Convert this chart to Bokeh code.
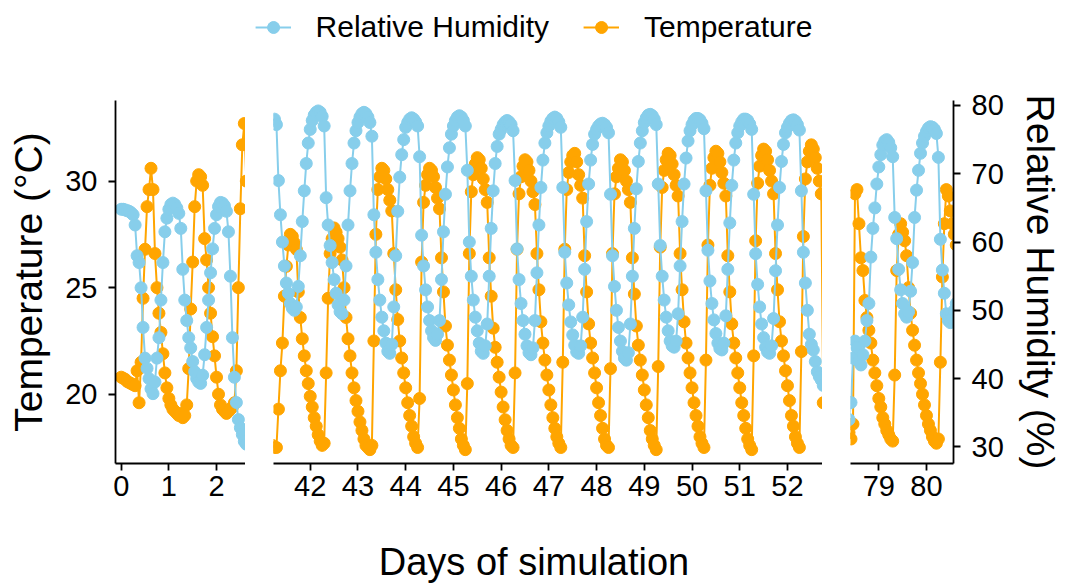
import numpy as np
from bokeh.plotting import figure
from bokeh.models import Range1d, LinearAxis, FixedTicker, Legend, LegendItem
from bokeh.layouts import column, row
from bokeh.embed import file_html
from bokeh.resources import INLINE

TEMP_COLOR = "#FFA500"
RH_COLOR = "#87CEEB"
FONT = "Liberation Sans"

# ---------------- data (hourly readings) ----------------
# Segment 1: days 0 - 2.6, starts at hour 0
seg1_start_hour = 0
temp_d0 = [20.8, 20.75, 20.7, 20.6, 20.55, 20.5, 20.45, 20.4, 21.1, 19.6, 21.5, 24.5,
           26.8, 28.8, 29.6, 30.6, 29.6, 26.6, 25.0, 23.8, 22.9, 21.9, 21.0, 20.3]
temp_d1 = [19.8, 19.5, 19.3, 19.2, 19.1, 19.0, 19.1, 18.9, 19.0, 19.5, 21.2, 24.0,
           26.2, 28.8, 30.0, 30.3, 30.2, 29.8, 27.3, 26.3, 25.0, 23.8, 22.7, 21.8]
temp_d2 = [20.8, 20.0, 19.5, 19.3, 19.2, 19.1, 19.2, 19.3, 19.4, 19.6, 21.1, 25.0,
           28.7, 31.7, 32.7, 30.0]
rh_d0 = [64.8, 64.8, 64.7, 64.6, 64.5, 64.3, 64.0, 62.5, 58.0, 57.0, 53.3, 47.5,
         43.0, 41.5, 40.0, 38.5, 37.8, 39.5, 43.0, 46.0, 51.5, 57.0, 61.5, 63.5]
rh_d1 = [64.8, 65.5, 65.7, 65.5, 65.0, 64.2, 62.0, 56.0, 51.5, 48.5, 46.0, 44.5,
         42.5, 41.0, 40.0, 39.5, 39.3, 40.5, 43.5, 47.5, 51.5, 55.5, 59.0, 62.0]
rh_d2 = [64.0, 65.2, 65.8, 65.7, 65.3, 64.5, 61.5, 55.0, 46.0, 40.2, 36.5, 34.0,
         32.8, 31.8, 30.8, 30.4]

# Segment 2: days 41.2 - 52.75, starts at day 41 hour 5
seg2_start_hour = 41 * 24 + 5
temp_d41 = [17.6, 17.5, 17.5, 19.3, 21.1, 22.4, 24.6, 26.0, 27.0, 27.5, 27.4, 27.1,
            26.8, 24.8, 23.6, 22.6, 21.8, 21.1, 20.5]
temp_d42 = [19.9, 19.4, 18.9, 18.5, 18.1, 17.8, 17.6, 17.7, 21.0, 24.5, 26.6, 27.3,
            27.8, 27.6, 27.3, 26.9, 26.3, 25.0, 23.6, 22.6, 21.8, 21.0, 20.3, 19.7]
temp_d43 = [19.2, 18.7, 18.3, 17.9, 17.6, 17.5, 17.4, 17.6, 22.5, 27.5, 29.6, 30.2,
            30.6, 30.5, 30.1, 29.6, 29.1, 28.6, 26.6, 24.9, 23.5, 22.5, 21.7, 21.0]
temp_d44 = [20.3, 19.6, 19.0, 18.5, 18.0, 17.7, 17.5, 19.8, 26.2, 29.0, 29.8, 30.3,
            30.6, 30.5, 30.2, 29.7, 29.2, 28.7, 26.4, 24.8, 23.2, 22.3, 21.6, 20.9]
temp_d45 = [20.2, 19.5, 18.9, 18.4, 17.9, 17.6, 17.4, 20.5, 26.6, 29.5, 30.3, 30.8,
            31.1, 31.0, 30.6, 30.1, 29.6, 29.0, 26.4, 24.6, 23.1, 22.2, 21.5, 20.8]
temp_d46 = [20.1, 19.4, 18.8, 18.3, 17.9, 17.6, 17.5, 21.0, 26.8, 29.4, 30.2, 30.7,
            31.0, 30.9, 30.5, 30.0, 29.5, 28.9, 26.6, 24.9, 23.4, 22.4, 21.6, 20.9]
temp_d47 = [20.2, 19.5, 18.9, 18.4, 18.0, 17.7, 17.5, 21.5, 26.8, 29.6, 30.4, 30.9,
            31.2, 31.3, 30.9, 30.3, 29.8, 29.2, 26.5, 24.8, 23.3, 22.4, 21.7, 21.0]
temp_d48 = [20.3, 19.6, 19.0, 18.4, 17.9, 17.6, 17.5, 21.2, 26.6, 29.4, 30.2, 30.6,
            31.0, 30.9, 30.5, 30.0, 29.6, 29.0, 26.4, 24.7, 23.2, 22.3, 21.6, 20.9]
temp_d49 = [20.2, 19.5, 18.9, 18.3, 17.9, 17.6, 17.4, 21.3, 26.9, 29.7, 30.5, 31.0,
            31.3, 31.2, 30.8, 30.3, 29.8, 29.3, 26.6, 24.9, 23.4, 22.4, 21.7, 21.0]
temp_d50 = [20.3, 19.6, 19.0, 18.5, 18.0, 17.7, 17.5, 21.6, 27.0, 29.8, 30.6, 31.1,
            31.4, 31.3, 30.9, 30.4, 29.9, 29.3, 26.5, 24.8, 23.3, 22.4, 21.7, 21.0]
temp_d51 = [20.3, 19.6, 19.0, 18.4, 17.9, 17.6, 17.4, 21.8, 27.2, 29.9, 30.7, 31.2,
            31.5, 31.4, 31.0, 30.5, 30.0, 29.4, 26.6, 24.9, 23.4, 22.5, 21.8, 21.1]
temp_d52 = [20.4, 19.7, 19.0, 18.5, 18.0, 17.7, 17.5, 22.0, 27.4, 30.1, 30.9, 31.4,
            31.7, 31.5, 31.1, 30.6, 30.0, 29.4, 19.6]
rh_d41 = [77.8, 78.0, 77.2, 69.0, 64.0, 60.0, 56.5, 54.0, 52.5, 51.0, 50.3, 50.0,
          50.5, 53.5, 58.0, 63.0, 67.5, 71.5, 74.5]
rh_d42 = [76.5, 77.8, 78.6, 79.0, 79.2, 79.0, 78.4, 77.0, 66.5, 62.5, 59.5, 57.0,
          54.5, 52.5, 50.8, 49.8, 49.5, 51.5, 56.5, 62.5, 67.5, 71.5, 74.5, 76.3]
rh_d43 = [77.5, 78.3, 78.8, 79.0, 78.8, 78.3, 77.5, 75.5, 64.0, 58.5, 54.5, 51.5,
          49.0, 47.0, 45.2, 44.0, 43.7, 45.0, 50.5, 58.0, 64.5, 69.5, 72.8, 75.0]
rh_d44 = [76.8, 77.5, 78.0, 78.2, 78.0, 77.6, 77.0, 72.5, 61.0, 56.5, 53.0, 50.5,
          48.5, 47.0, 46.0, 45.6, 46.5, 48.5, 54.5, 61.5, 67.0, 71.0, 73.8, 75.8]
rh_d45 = [77.0, 77.8, 78.3, 78.5, 78.3, 77.8, 77.0, 70.5, 60.0, 55.0, 51.5, 49.0,
          47.0, 45.2, 44.0, 43.7, 44.8, 48.0, 55.0, 62.0, 67.5, 71.5, 74.0, 75.8]
rh_d46 = [76.5, 77.2, 77.6, 77.8, 77.6, 77.2, 76.3, 69.0, 59.0, 54.5, 51.0, 48.5,
          46.5, 44.8, 43.8, 43.5, 44.5, 48.5, 55.5, 62.5, 68.0, 72.0, 74.5, 76.0]
rh_d47 = [77.0, 77.7, 78.1, 78.3, 78.1, 77.6, 76.8, 68.0, 58.5, 54.0, 50.8, 48.3,
          46.4, 44.9, 43.9, 43.7, 44.8, 49.0, 56.0, 63.0, 68.5, 72.0, 74.3, 75.8]
rh_d48 = [76.5, 77.0, 77.3, 77.4, 77.2, 76.8, 76.0, 67.0, 58.0, 53.5, 50.0, 47.5,
          45.5, 44.0, 43.0, 42.7, 43.8, 48.0, 55.0, 62.0, 67.8, 71.8, 74.5, 76.3]
rh_d49 = [77.5, 78.2, 78.6, 78.7, 78.5, 78.0, 77.2, 68.5, 59.5, 55.0, 51.5, 49.0,
          47.0, 45.5, 44.8, 44.6, 45.5, 49.5, 56.5, 63.0, 68.5, 72.3, 74.8, 76.3]
rh_d50 = [77.2, 77.8, 78.1, 78.1, 77.9, 77.4, 76.6, 67.5, 58.8, 54.3, 51.0, 48.6,
          46.6, 45.2, 44.4, 44.2, 45.2, 49.2, 56.0, 62.8, 68.3, 72.0, 74.5, 76.0]
rh_d51 = [77.0, 77.6, 78.0, 78.0, 77.8, 77.3, 76.5, 67.0, 58.3, 53.8, 50.5, 48.0,
          46.0, 44.6, 43.9, 43.7, 44.8, 48.8, 55.8, 62.5, 68.0, 71.8, 74.3, 76.0]
rh_d52 = [76.8, 77.4, 77.8, 77.9, 77.7, 77.2, 76.4, 67.5, 58.5, 54.0, 50.0, 46.5,
          45.0, 44.2, 42.5, 41.0, 40.3, 39.8, 39.0]

# Segment 3: days 78.4 - 80.6, starts at day 78 hour 9
seg3_start_hour = 78 * 24 + 9
temp_d78 = [18.2, 17.9, 18.6, 29.4, 29.6, 28.0, 26.4, 25.8, 24.4, 23.6, 23.0, 22.4,
            21.6, 21.0, 20.4]
temp_d79 = [19.8, 19.4, 18.9, 18.6, 18.3, 18.1, 17.9, 17.8, 20.9, 25.8, 27.5, 28.0,
            27.6, 27.2, 26.5, 25.0, 23.8, 23.0, 22.3, 21.6, 21.0, 20.5, 20.0, 19.5]
temp_d80 = [19.0, 18.6, 18.3, 18.0, 17.8, 17.7, 17.9, 21.5, 25.5, 28.0, 29.6, 29.3,
            28.6, 28.0, 27.5, 27.0]
rh_d78 = [34.0, 36.5, 43.0, 45.5, 44.5, 42.5, 42.0, 43.5, 45.5, 48.5, 51.0, 57.8,
          62.0, 65.0, 68.5]
rh_d79 = [71.0, 72.8, 74.2, 74.8, 75.0, 74.6, 73.8, 72.5, 63.6, 60.5, 56.0, 53.0,
          51.0, 49.5, 49.0, 49.8, 52.8, 57.0, 63.6, 67.6, 70.5, 73.0, 74.5, 75.5]
rh_d80 = [76.2, 76.7, 76.9, 76.8, 76.5, 75.9, 72.4, 60.4, 55.9, 52.5, 49.5, 48.5,
          48.2, 48.8, 50.0, 51.0]

# Axis settings
temp_ticks = [20, 25, 30]
rh_ticks = [30, 40, 50, 60, 70, 80]
seg1_ticks = [0, 1, 2]
seg2_ticks = list(range(42, 53))
seg3_ticks = [79, 80]
seg1_window = (-0.12, 2.608)
seg2_window = (41.23, 52.734)
seg3_window = (78.406, 80.567)
temp_window = (16.75, 33.78)
rh_window = (27.57, 80.73)

segments = [
    (seg1_start_hour, temp_d0 + temp_d1 + temp_d2, rh_d0 + rh_d1 + rh_d2),
    (seg2_start_hour,
     temp_d41 + temp_d42 + temp_d43 + temp_d44 + temp_d45 + temp_d46 + temp_d47
     + temp_d48 + temp_d49 + temp_d50 + temp_d51 + temp_d52,
     rh_d41 + rh_d42 + rh_d43 + rh_d44 + rh_d45 + rh_d46 + rh_d47
     + rh_d48 + rh_d49 + rh_d50 + rh_d51 + rh_d52),
    (seg3_start_hour, temp_d78 + temp_d79 + temp_d80, rh_d78 + rh_d79 + rh_d80),
]

POINT_SIZE = 12


def clean(p):
    p.outline_line_color = None
    p.background_fill_color = "white"
    p.border_fill_color = "white"
    for g in p.renderers:
        pass
    p.xgrid.visible = False
    p.ygrid.visible = False
    p.grid.grid_line_color = None


def style_axis(ax, tick_size="29px", title_size="39px", standoff=11):
    ax.axis_line_color = "black"
    ax.axis_line_width = 1.8
    ax.major_tick_line_color = "black"
    ax.major_tick_line_width = 1.8
    ax.major_tick_out = 7
    ax.major_tick_in = 0
    ax.minor_tick_out = 0
    ax.minor_tick_in = 0
    ax.major_label_standoff = standoff
    ax.major_label_text_font = FONT
    ax.major_label_text_font_size = tick_size
    ax.major_label_text_color = "black"
    ax.axis_label_text_font = FONT
    ax.axis_label_text_font_size = title_size
    ax.axis_label_text_font_style = "normal"
    ax.axis_label_text_color = "black"
    ax.axis_label_standoff = 12


def make_panel(seg, window, ticks, width, left_b, right_b, left_axis=False, right_axis=False):
    start, temps, rhs = seg
    p = figure(width=width, height=466, x_range=Range1d(*window),
               y_range=Range1d(*temp_window), output_backend="svg",
               toolbar_location=None,
               min_border_left=left_b, min_border_right=right_b,
               min_border_top=46, min_border_bottom=57)
    # remove default axes and grids
    p.renderers = []
    p.left = []
    p.below = []
    p.center = []
    p.extra_y_ranges = {"rh": Range1d(*rh_window)}
    p.outline_line_color = None
    p.background_fill_color = "white"
    p.border_fill_color = "white"
    days = (start + np.arange(len(temps))) / 24.0
    days_rh = (start + np.arange(len(rhs))) / 24.0
    p.line(days, temps, line_color=TEMP_COLOR, line_width=2)
    p.scatter(days, temps, size=POINT_SIZE, fill_color=TEMP_COLOR, line_color=TEMP_COLOR)
    p.line(days_rh, rhs, line_color=RH_COLOR, line_width=2, y_range_name="rh")
    p.scatter(days_rh, rhs, size=POINT_SIZE, fill_color=RH_COLOR, line_color=RH_COLOR,
              y_range_name="rh")

    xa = LinearAxis(ticker=FixedTicker(ticks=ticks, minor_ticks=[]))
    style_axis(xa, standoff=5)
    p.add_layout(xa, "below")
    if left_axis:
        ya = LinearAxis(ticker=FixedTicker(ticks=temp_ticks, minor_ticks=[]),
                        axis_label="Temperature (°C)")
        style_axis(ya)
        p.add_layout(ya, "left")
    if right_axis:
        ya2 = LinearAxis(y_range_name="rh",
                         ticker=FixedTicker(ticks=rh_ticks, minor_ticks=[]),
                         axis_label="Relative Humidity (%)")
        style_axis(ya2)
        p.add_layout(ya2, "right")
    return p


f1 = make_panel(segments[0], seg1_window, seg1_ticks, 245, 115, 0, left_axis=True)
f2 = make_panel(segments[1], seg2_window, seg2_ticks, 577, 28, 0)
f3 = make_panel(segments[2], seg3_window, seg3_ticks, 243, 28, 112, right_axis=True)

# Header with legend (legend renderers hold no visible points)
header = figure(width=1065, height=54, x_range=Range1d(0, 1), y_range=Range1d(0, 1),
                output_backend="svg", toolbar_location=None,
                min_border_left=6, min_border_right=0, min_border_top=0, min_border_bottom=0)
header.left = []
header.below = []
header.center = []
header.outline_line_color = None
empty = [np.nan]
r_line = header.line(x=empty, y=empty, line_color=RH_COLOR, line_width=2)
r_pt = header.scatter(x=empty, y=empty, fill_color=RH_COLOR, line_color=RH_COLOR)
t_line = header.line(x=empty, y=empty, line_color=TEMP_COLOR, line_width=2)
t_pt = header.scatter(x=empty, y=empty, fill_color=TEMP_COLOR, line_color=TEMP_COLOR)
legend = Legend(items=[LegendItem(label="Relative Humidity", renderers=[r_line, r_pt]),
                       LegendItem(label="Temperature", renderers=[t_line, t_pt])],
                location="center", orientation="horizontal",
                glyph_width=36, glyph_height=30, label_standoff=25, spacing=34,
                padding=0, margin=0, border_line_color=None, background_fill_alpha=0,
                label_text_font=FONT, label_text_font_size="30px",
                label_text_color="black")
header.add_layout(legend, "center")

# Footer with x-axis title
footer = figure(width=1065, height=66, x_range=Range1d(0, 1), y_range=Range1d(0, 1),
                output_backend="svg", toolbar_location=None,
                min_border_left=115, min_border_right=113, min_border_top=0,
                min_border_bottom=56)
footer.left = []
footer.below = []
footer.center = []
footer.outline_line_color = None
fa = LinearAxis(ticker=FixedTicker(ticks=[], minor_ticks=[]), axis_label="Days of simulation")
style_axis(fa, title_size="38px")
fa.axis_line_color = None
fa.major_tick_line_color = None
fa.major_tick_out = 0
fa.axis_label_standoff = 10
footer.add_layout(fa, "below")

layout = column(header, row(f1, f2, f3), footer)

with open("out.html", "w") as fh:
    fh.write(file_html(layout, INLINE))
